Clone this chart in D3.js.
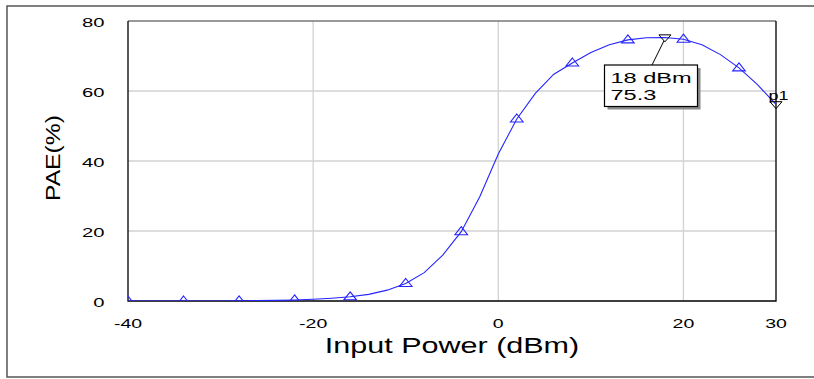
<!DOCTYPE html>
<html>
<head>
<meta charset="utf-8">
<script src="https://cdn.jsdelivr.net/npm/d3@7"></script>
<style>
  html, body { margin: 0; padding: 0; background: #fff; }
  svg { display: block; font-family: "Liberation Sans", Arial, sans-serif; }
</style>
</head>
<body>
<svg id="chart" width="814" height="379"></svg>
<script>
// Swept input power (dBm) and the simulated power-added efficiency (%)
const pin = [-40, -38, -36, -34, -32, -30, -28, -26, -24, -22, -20, -18,
             -16, -14, -12, -10, -8, -6, -4, -2, 0, 2, 4, 6,
             8, 10, 12, 14, 16, 18, 20, 22, 24, 26, 28, 30];
const pae = [0, 0, 0, 0, 0, 0.02, 0.05, 0.1, 0.18, 0.3, 0.5, 0.8,
             1.2, 1.9, 3.1, 5.0, 8.1, 13.1, 19.8, 29.8, 42.0, 52.0, 59.3, 64.8,
             68.0, 71.0, 73.2, 74.6, 75.2, 75.3, 74.8, 73.2, 70.4, 66.6, 61.8, 56.2];
// Trace symbols are placed every 6 dBm
const symbolPin = [-40, -34, -28, -22, -16, -10, -4, 2, 8, 14, 20, 26];
// Markers placed on the trace
const markerPin = [18, 30];
const markerName = ["m2", "p1"];

const xTicks = [-40, -20, 0, 20, 30];
const yTicks = [0, 20, 40, 60, 80];

const svg = d3.select("#chart");
const SX = 1.5; // horizontal stretch applied to the lettering

const plot = { left: 128, right: 776, top: 21, bottom: 301 };
const x = d3.scaleLinear().domain([-40, 30]).range([plot.left, plot.right]);
const y = d3.scaleLinear().domain([0, 80]).range([plot.bottom, plot.top]);
const paeAt = p => pae[pin.indexOf(p)];
const plain = d => String(d);

// outer frame
svg.append("rect")
  .attr("x", 7).attr("y", 6).attr("width", 830).attr("height", 371)
  .attr("fill", "none").attr("stroke", "#555").attr("stroke-width", 1.5);

// grid
const grid = svg.append("g").attr("stroke", "#d2d2d2").attr("stroke-width", 1.3);
grid.selectAll("line.gx").data(xTicks.filter(t => t > -40 && t < 30)).join("line")
  .attr("x1", d => x(d)).attr("x2", d => x(d))
  .attr("y1", plot.top).attr("y2", plot.bottom);
grid.selectAll("line.gy").data(yTicks.filter(t => t > 0 && t < 80)).join("line")
  .attr("x1", plot.left).attr("x2", plot.right)
  .attr("y1", d => y(d)).attr("y2", d => y(d));

// plot border
svg.append("line").attr("x1", plot.left).attr("x2", plot.right)
  .attr("y1", plot.top).attr("y2", plot.top).attr("stroke", "#777").attr("stroke-width", 1.3);
svg.append("path")
  .attr("d", `M${plot.left},${plot.top}V${plot.bottom}H${plot.right}V${plot.top}`)
  .attr("fill", "none").attr("stroke", "#000").attr("stroke-width", 1.3);

// axes tick labels
const stretched = (sel, ax, ay) => sel.attr("transform", `translate(${ax},${ay}) scale(${SX},1)`);

const xAxis = d3.axisBottom(x).tickValues(xTicks).tickFormat(plain).tickSize(0).tickPadding(0);
const gx = svg.append("g").call(xAxis);
gx.select(".domain").remove();
gx.selectAll(".tick text")
  .attr("y", null).attr("dy", null)
  .attr("font-size", 13).attr("fill", "#000")
  .attr("font-family", "Liberation Sans, Arial, sans-serif")
  .attr("text-anchor", "middle")
  .each(function() { stretched(d3.select(this), 0, 328); });
gx.attr("transform", null);
gx.selectAll(".tick").attr("transform", d => `translate(${x(d)},0)`);

const yAxis = d3.axisLeft(y).tickValues(yTicks).tickFormat(plain).tickSize(0).tickPadding(0);
const gy = svg.append("g").call(yAxis);
gy.select(".domain").remove();
gy.selectAll(".tick text")
  .attr("x", null).attr("dy", null)
  .attr("font-size", 13.5).attr("fill", "#000")
  .attr("font-family", "Liberation Sans, Arial, sans-serif")
  .attr("text-anchor", "end")
  .each(function() { stretched(d3.select(this), 104.5, 5.5); });

// axis titles
svg.append("text").text("Input Power (dBm)")
  .attr("font-size", 21.5).attr("text-anchor", "middle").attr("fill", "#000")
  .attr("transform", `translate(452,353) scale(1.42,1)`);

svg.append("text").text("PAE(%)")
  .attr("font-size", 22).attr("text-anchor", "middle").attr("fill", "#000")
  .attr("textLength", 86).attr("lengthAdjust", "spacingAndGlyphs")
  .attr("transform", `translate(60,158) rotate(-90) scale(1,0.92)`);

// trace
svg.append("clipPath").attr("id", "plotclip").append("rect")
  .attr("x", plot.left).attr("y", plot.top)
  .attr("width", plot.right - plot.left).attr("height", plot.bottom - plot.top);

const line = d3.line().x(d => x(d[0])).y(d => y(d[1]));
svg.append("path")
  .datum(d3.zip(pin, pae))
  .attr("d", line)
  .attr("fill", "none").attr("stroke", "#2424ff").attr("stroke-width", 1.1)
  .attr("clip-path", "url(#plotclip)");

const upTri = (cx, cy) => `M${cx},${cy - 5}L${cx + 6.3},${cy + 3}L${cx - 6.3},${cy + 3}Z`;
const downTri = (cx, cy) => `M${cx - 6},${cy - 2.6}L${cx + 6},${cy - 2.6}L${cx},${cy + 4.4}Z`;

svg.append("g").attr("clip-path", "url(#plotclip)")
  .selectAll("path").data(symbolPin).join("path")
  .attr("d", d => upTri(x(d), y(paeAt(d))))
  .attr("fill", "none").attr("stroke", "#2424ff").attr("stroke-width", 1.1);

// markers
svg.append("g").selectAll("path").data(markerPin).join("path")
  .attr("d", d => downTri(x(d), y(paeAt(d))))
  .attr("fill", "none").attr("stroke", "#000").attr("stroke-width", 1);

// readout box for the peak marker
const pk = markerPin[0];
const box = { x: 604.5, y: 65, w: 93, h: 41.5 };
svg.append("rect").attr("x", box.x + 3).attr("y", box.y + 3)
  .attr("width", box.w).attr("height", box.h).attr("fill", "#8a8a8a");
svg.append("line")
  .attr("x1", x(pk) - 1).attr("y1", y(paeAt(pk)) + 3.5)
  .attr("x2", box.x + 47.5).attr("y2", box.y)
  .attr("stroke", "#000").attr("stroke-width", 1);
svg.append("rect").attr("x", box.x).attr("y", box.y)
  .attr("width", box.w).attr("height", box.h)
  .attr("fill", "#fff").attr("stroke", "#000").attr("stroke-width", 1.2);
svg.append("text").text(`${pk} dBm`).attr("font-size", 15.5).attr("fill", "#000")
  .attr("transform", `translate(${box.x + 6},${box.y + 17.7}) scale(1.52,1)`);
svg.append("text").text(paeAt(pk).toFixed(1)).attr("font-size", 15.5).attr("fill", "#000")
  .attr("transform", `translate(${box.x + 6},${box.y + 35}) scale(1.52,1)`);

// name tag on the end marker
const endPin = markerPin[1];
stretched(svg.append("text").text(markerName[1]).attr("font-size", 12).attr("fill", "#000"),
  x(endPin) - 7.5, y(paeAt(endPin)) - 4);
</script>
</body>
</html>
